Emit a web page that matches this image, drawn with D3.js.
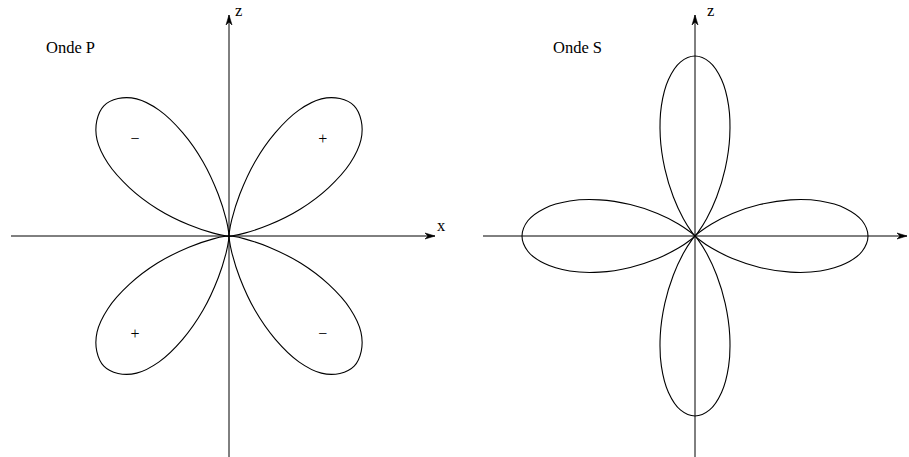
<!DOCTYPE html>
<html>
<head>
<meta charset="utf-8">
<script src="https://d3js.org/d3.v7.min.js"></script>
<style>
  html, body { margin: 0; padding: 0; background: #fff; overflow: hidden; }
  svg { display: block; }
  text { font-family: 'Liberation Serif', 'DejaVu Serif', serif; fill: #000; }
</style>
</head>
<body>
<svg id="chart" width="909" height="457"></svg>
<script>
const lobeOffsets = [-45, -40, -35, -30, -25, -20, -15, -10, -5, 0, 5, 10, 15, 20, 25, 30, 35, 40, 45];
const pLobeProfile = [0, 0.02, 0.09, 0.235, 0.43, 0.62, 0.79, 0.91, 0.975, 1, 0.975, 0.91, 0.79, 0.62, 0.43, 0.235, 0.09, 0.02, 0];
const sLobeProfile = [0, 0.03, 0.117, 0.25, 0.413, 0.587, 0.75, 0.883, 0.97, 1, 0.97, 0.883, 0.75, 0.587, 0.413, 0.25, 0.117, 0.03, 0];

// lobe directions (degrees, counter-clockwise from +x) and polarity
const pLobeAngles = [45, 135, 225, 315];
const pLobeSigns = ['+', '\u2212', '+', '\u2212'];
const sLobeAngles = [0, 90, 180, 270];

const panelTitles = ['Onde P', 'Onde S'];
const axisLabels = ['x', 'z'];

const panels = [
  { title: panelTitles[0], cx: 229, cy: 236, rx: 177, rz: 184, x0: 11, x1: 435, angles: pLobeAngles, profile: pLobeProfile, signs: pLobeSigns, titleX: 46, zLabelX: 235 },
  { title: panelTitles[1], cx: 695, cy: 236, rx: 173, rz: 180, x0: 483, x1: 907, angles: sLobeAngles, profile: sLobeProfile, signs: null, titleX: 553, zLabelX: 707 }
];

const svg = d3.select('#chart');
const rad = d => d * Math.PI / 180;

panels.forEach(p => {
  const g = svg.append('g');
  const x = d3.scaleLinear().domain([-1, 1]).range([p.cx - p.rx, p.cx + p.rx]);
  const y = d3.scaleLinear().domain([-1, 1]).range([p.cy + p.rz, p.cy - p.rz]);

  // axes
  g.append('line').attr('x1', p.x0).attr('y1', p.cy).attr('x2', p.x1).attr('y2', p.cy)
    .attr('stroke', '#000').attr('stroke-width', 1);
  g.append('line').attr('x1', p.cx).attr('y1', 457).attr('x2', p.cx).attr('y2', 15)
    .attr('stroke', '#000').attr('stroke-width', 1);
  // arrow heads
  g.append('path')
    .attr('d', `M${p.x1 - 10},${p.cy - 3} L${p.x1},${p.cy} L${p.x1 - 10},${p.cy + 3} L${p.x1 - 7},${p.cy} Z`)
    .attr('fill', '#000').attr('stroke', '#000').attr('stroke-width', 0.6);
  g.append('path')
    .attr('d', `M${p.cx - 3},25 L${p.cx},15 L${p.cx + 3},25 L${p.cx},22 Z`)
    .attr('fill', '#000').attr('stroke', '#000').attr('stroke-width', 0.6);

  g.append('text').attr('x', p.x1 + 2).attr('y', 231).attr('font-size', 16.5).text(axisLabels[0]);
  g.append('text').attr('x', p.zLabelX).attr('y', 15.5).attr('font-size', 16.5).text(axisLabels[1]);
  g.append('text').attr('x', p.titleX).attr('y', 53).attr('font-size', 16.5).text(p.title);

  // lobes
  const line = d3.line()
    .x(d => x(d.r * Math.cos(d.a)))
    .y(d => y(d.r * Math.sin(d.a)))
    .curve(d3.curveCatmullRom.alpha(0.5));

  p.angles.forEach((ang, i) => {
    const pts = lobeOffsets.map((o, k) => ({ a: rad(ang + o), r: p.profile[k] }));
    g.append('path').attr('d', line(pts))
      .attr('fill', 'none').attr('stroke', '#000').attr('stroke-width', 1.1);

    if (p.signs) {
      const m = 0.75;
      g.append('text')
        .attr('x', x(m * Math.cos(rad(ang))))
        .attr('y', y(m * Math.sin(rad(ang))))
        .attr('text-anchor', 'middle').attr('dominant-baseline', 'central')
        .attr('font-size', 16).text(p.signs[i]);
    }
  });
});
</script>
</body>
</html>
